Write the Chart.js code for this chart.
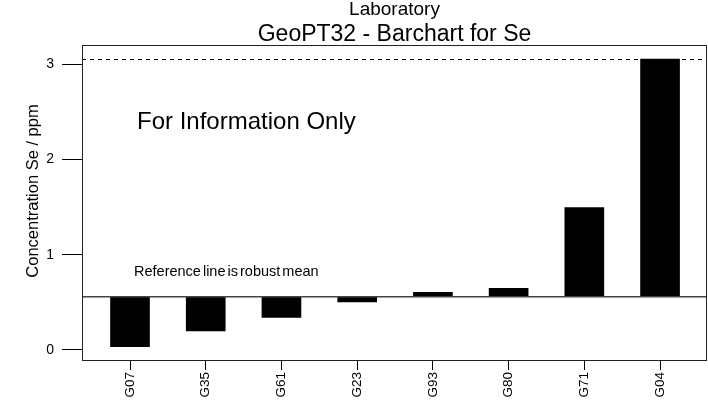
<!DOCTYPE html>
<html>
<head>
<meta charset="utf-8">
<script src="https://cdn.jsdelivr.net/npm/chart.js@4"></script>
<style>
  html, body { margin: 0; padding: 0; background: #fff; }
  #wrap { width: 708px; height: 400px; position: relative; }
</style>
</head>
<body>
<div id="wrap"><canvas id="c" width="708" height="400"></canvas></div>
<script>
// Laboratory results for Se (ppm), GeoPT32
const labs = ['G07', 'G35', 'G61', 'G23', 'G93', 'G80', 'G71', 'G04'];
const seValues = [0.035, 0.199, 0.343, 0.504, 0.605, 0.647, 1.493, 3.053];
const robustMean = 0.559;
const upperLine = 3.053;
const yTicks = [0, 1, 2, 3];

const FONT = '"Liberation Sans", Arial, Helvetica, sans-serif';

// bars float from the robust mean to each lab's value
const barData = labs.map((lab, i) => ({ x: i, y: [robustMean, seValues[i]] }));

const decorations = {
  id: 'decorations',
  beforeDatasetsDraw(chart) {
    const { ctx, chartArea: a, scales: { y } } = chart;
    ctx.save();
    // dashed line at the upper value
    const yu = Math.round(y.getPixelForValue(upperLine)) + 0.5;
    ctx.strokeStyle = '#000';
    ctx.lineWidth = 1;
    ctx.setLineDash([4, 4]);
    ctx.beginPath();
    ctx.moveTo(a.left, yu);
    ctx.lineTo(a.right, yu);
    ctx.stroke();
    ctx.restore();
  },
  afterDatasetsDraw(chart) {
    const { ctx, chartArea: a, scales: { y } } = chart;
    ctx.save();
    // robust mean reference line
    const ym = y.getPixelForValue(robustMean);
    ctx.strokeStyle = '#444';
    ctx.lineWidth = 1.6;
    ctx.beginPath();
    ctx.moveTo(a.left, ym);
    ctx.lineTo(a.right, ym);
    ctx.stroke();

    // plot frame
    ctx.strokeStyle = '#222';
    ctx.lineWidth = 1;
    ctx.strokeRect(a.left + 0.5, a.top + 0.5, a.right - a.left - 1, a.bottom - a.top);

    ctx.fillStyle = '#000';
    ctx.textAlign = 'left';
    ctx.textBaseline = 'alphabetic';
    ctx.font = '14.5px ' + FONT;
    ctx.wordSpacing = '-2px';
    ctx.fillText('Reference line is robust mean', a.left + 52, ym - 21);
    ctx.wordSpacing = '0px';

    ctx.font = '24px ' + FONT;
    ctx.fillText('For Information Only', 137, 129);

    // titles
    const cx = (a.left + a.right) / 2;
    ctx.textAlign = 'center';
    ctx.font = '19px ' + FONT;
    ctx.fillText('Laboratory', cx, 15);
    ctx.font = '23px ' + FONT;
    ctx.fillText('GeoPT32 - Barchart for Se', cx, 41);
    // x-axis title, mostly below the bottom edge
    ctx.font = '19px ' + FONT;
    ctx.fillText('Laboratory', cx, 412.5);

    // y-axis title
    ctx.translate(33, 191);
    ctx.rotate(-Math.PI / 2);
    ctx.textBaseline = 'middle';
    ctx.font = '16.5px ' + FONT;
    ctx.fillText('Concentration Se / ppm', 0, 0);
    ctx.restore();
  }
};

new Chart(document.getElementById('c'), {
  type: 'bar',
  data: {
    datasets: [{
      data: barData,
      backgroundColor: '#000',
      borderWidth: 0,
      barThickness: 39
    }]
  },
  options: {
    responsive: false,
    animation: false,
    events: [],
    layout: { padding: { top: 45, right: 1, left: 0, bottom: 0 } },
    plugins: { legend: { display: false }, tooltip: { enabled: false } },
    scales: {
      x: {
        type: 'linear',
        offset: false,
        min: -0.634,
        max: 7.62,
        afterBuildTicks(scale) { scale.ticks = labs.map((_, i) => ({ value: i })); },
        afterFit(scale) { scale.height = 40; },
        ticks: {
          callback: (v) => labs[v],
          minRotation: 90,
          maxRotation: 90,
          autoSkip: false,
          padding: 2,
          color: '#000',
          font: { family: FONT, size: 13.5 }
        },
        grid: { offset: false, drawOnChartArea: false, drawTicks: true, tickLength: 10, tickColor: '#000', lineWidth: 1 },
        border: { display: false }
      },
      y: {
        min: -0.105,
        max: 3.2,
        afterBuildTicks(scale) { scale.ticks = yTicks.map(v => ({ value: v })); },
        afterFit(scale) { scale.width = 82; },
        ticks: {
          color: '#000',
          padding: 8,
          font: { family: FONT, size: 14 }
        },
        grid: { drawOnChartArea: false, drawTicks: true, tickLength: 20, tickColor: '#000', lineWidth: 1 },
        border: { display: false }
      }
    }
  },
  plugins: [decorations]
});
</script>
</body>
</html>
